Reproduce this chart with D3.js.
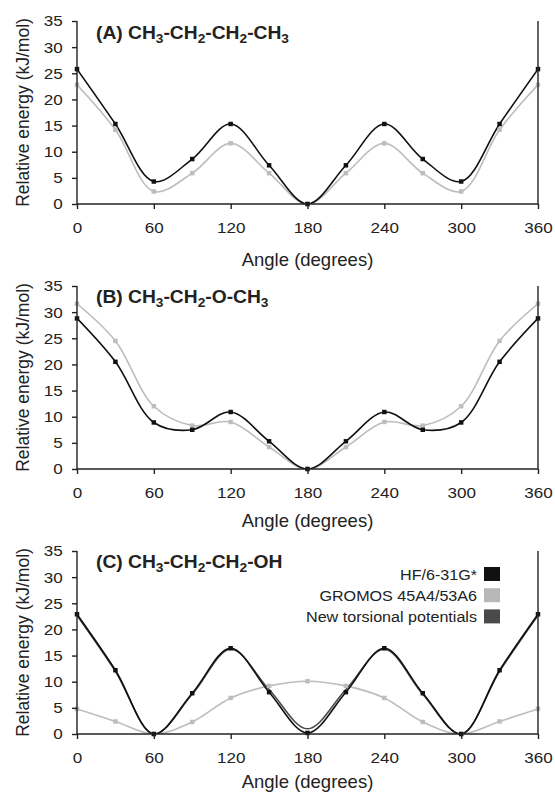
<!DOCTYPE html>
<html>
<head>
<meta charset="utf-8">
<script src="https://cdn.jsdelivr.net/npm/d3@7"></script>
<style>
  body { margin: 0; background: #fff; }
  text { font-family: "Liberation Sans", Arial, sans-serif; fill: #222; }
</style>
</head>
<body>
<svg id="chart" width="555" height="799"></svg>
<script>
// torsion angles (degrees)
var angles = [0, 30, 60, 90, 120, 150, 180, 210, 240, 270, 300, 330, 360];

// (A) butane
var hfA      = [25.8, 15.3, 4.3, 8.6, 15.3, 7.4, 0, 7.4, 15.3, 8.6, 4.3, 15.3, 25.8];
var gromosA  = [22.8, 14.2, 2.4, 5.9, 11.6, 5.9, 0, 5.9, 11.6, 5.9, 2.4, 14.2, 22.8];
// (B) methyl ethyl ether
var hfB      = [28.8, 20.5, 8.9, 7.5, 10.9, 5.3, 0, 5.3, 10.9, 7.5, 8.9, 20.5, 28.8];
var gromosB  = [31.6, 24.5, 12.0, 8.3, 9.0, 4.2, 0, 4.2, 9.0, 8.3, 12.0, 24.5, 31.6];
// (C) propanol
var hfC      = [22.9, 12.2, 0, 7.8, 16.4, 8.0, 0.2, 8.0, 16.4, 7.8, 0, 12.2, 22.9];
var gromosC  = [4.8, 2.4, 0, 2.3, 6.9, 9.2, 10.1, 9.2, 6.9, 2.3, 0, 2.4, 4.8];
var newC     = [22.7, 12.0, 0, 7.6, 16.2, 8.5, 1.0, 8.5, 16.2, 7.6, 0, 12.0, 22.7];

var xTicks = [0, 60, 120, 180, 240, 300, 360];
var yTicks = [0, 5, 10, 15, 20, 25, 30, 35];
var legendLabels = ["HF/6-31G*", "GROMOS 45A4/53A6", "New torsional potentials"];
var legendColors = ["#111", "#b8b8b8", "#4a4a4a"];

var svg = d3.select("#chart");
var margin = {left: 77, right: 538};
var stretch = 1.1;   // the source figure is a bit wider than tall

   /*========== one panel ===========*/
drawPanel = function(svg, param) {
    var g = svg.append("g");
    var x = d3.scaleLinear().domain([0, 360]).range([margin.left, margin.right]);
    var y = d3.scaleLinear().domain([0, 35]).range([param.y0, param.y0 - 183]);

    var clipId = "clip" + param.id;
    g.append("clipPath").attr("id", clipId)
        .append("rect")
        .attr("x", x(0)).attr("y", y(35) - 5)
        .attr("width", x(360) - x(0)).attr("height", y(0) - y(35) + 5);

    var line = d3.line()
        .x(function (d, i) { return x(angles[i]); })
        .y(function (d) { return y(d); })
        .curve(d3.curveCatmullRom.alpha(0.5));

    var plot = g.append("g").attr("clip-path", "url(#" + clipId + ")");

    // gromos series
    plot.append("path").datum(param.gromos)
        .attr("d", line).attr("fill", "none")
        .attr("stroke", "#bdbdbd").attr("stroke-width", 1.6);
    if (param.newer) {
        plot.append("path").datum(param.newer)
            .attr("d", line).attr("fill", "none")
            .attr("stroke", "#4a4a4a").attr("stroke-width", 1.6);
    }
    plot.append("path").datum(param.hf)
        .attr("d", line).attr("fill", "none")
        .attr("stroke", "#111").attr("stroke-width", 1.6);

    var sym = d3.symbol().type(d3.symbolSquare).size(20);
    g.append("g").selectAll("path")
        .data(param.gromos).enter().append("path")
        .attr("d", sym)
        .attr("transform", function (d, i) { return "translate(" + x(angles[i]) + "," + y(d) + ")"; })
        .attr("fill", "#bdbdbd");
    g.append("g").selectAll("path")
        .data(param.hf).enter().append("path")
        .attr("d", sym)
        .attr("transform", function (d, i) { return "translate(" + x(angles[i]) + "," + y(d) + ")"; })
        .attr("fill", "#111");

    // axes
    var xAxis = g.append("g")
        .attr("transform", "translate(0," + y(0) + ")")
        .call(d3.axisBottom(x).tickValues(xTicks).tickSize(5).tickPadding(13));
    var yAxis = g.append("g")
        .attr("transform", "translate(" + x(0) + ",0)")
        .call(d3.axisLeft(y).tickValues(yTicks).tickSize(5).tickPadding(8));
    [xAxis, yAxis].forEach(function (a) {
        a.selectAll("path, line").attr("stroke", "#222").attr("stroke-width", 1.4);
        a.selectAll("text")
            .style("font-size", "15.5px")
            .style("font-family", "'Liberation Sans', Arial, sans-serif")
            .attr("fill", "#222")
            .attr("transform", "scale(" + stretch + ",1)");
    });
    xAxis.select(".domain").attr("d", "M" + x(0) + ",0H" + x(360));
    yAxis.select(".domain").attr("d", "M0," + y(0) + "V" + y(35));

    // right frame line
    g.append("line")
        .attr("x1", x(360)).attr("x2", x(360))
        .attr("y1", y(35)).attr("y2", y(0))
        .attr("stroke", "#222").attr("stroke-width", 1.4);

    // axis titles
    g.append("text")
        .attr("x", (x(0) + x(360)) / 2)
        .attr("y", y(0) + param.xTitleDy)
        .attr("text-anchor", "middle")
        .style("font-size", "18.5px")
        .text("Angle (degrees)");
    g.append("text")
        .attr("transform", "translate(29," + (y(17.5)) + ") rotate(-90)")
        .attr("text-anchor", "middle")
        .style("font-size", "17.5px")
        .text("Relative energy (kJ/mol)");

    // panel title with subscripts
    var title = g.append("text")
        .attr("transform", "translate(96," + (y(35) + param.titleDy) + ") scale(" + stretch + ",1)")
        .style("font-size", "17.5px").style("font-weight", "bold");
    param.title.split(/_(\d)/).forEach(function (part, i) {
        if (i % 2 === 1) {
            title.append("tspan").attr("dy", 4).style("font-size", "12.5px").text(part);
        } else if (part.length) {
            title.append("tspan").attr("dy", i > 0 ? -4 : 0).text(part);
        }
    });

    if (param.legend) {
        var leg = g.append("g").selectAll("g")
            .data(legendLabels).enter().append("g")
            .attr("transform", function (d, i) { return "translate(0," + (y(35) + 23 + i * 21.2) + ")"; });
        leg.append("rect")
            .attr("x", 484).attr("y", -7).attr("width", 16).attr("height", 14)
            .attr("fill", function (d, i) { return legendColors[i]; });
        leg.append("text")
            .attr("transform", "translate(477,5.5) scale(1.04,1)")
            .attr("text-anchor", "end")
            .style("font-size", "15.5px")
            .text(function (d) { return d; });
    }
};

drawPanel(svg, {id: "A", y0: 204, titleDy: 18, xTitleDy: 62, hf: hfA, gromos: gromosA, title: "(A) CH_3-CH_2-CH_2-CH_3"});
drawPanel(svg, {id: "B", y0: 469, titleDy: 17, xTitleDy: 58, hf: hfB, gromos: gromosB, title: "(B) CH_3-CH_2-O-CH_3"});
drawPanel(svg, {id: "C", y0: 734, titleDy: 17, xTitleDy: 54, newer: newC, legend: true, hf: hfC, gromos: gromosC, title: "(C) CH_3-CH_2-CH_2-OH"});
</script>
</body>
</html>
